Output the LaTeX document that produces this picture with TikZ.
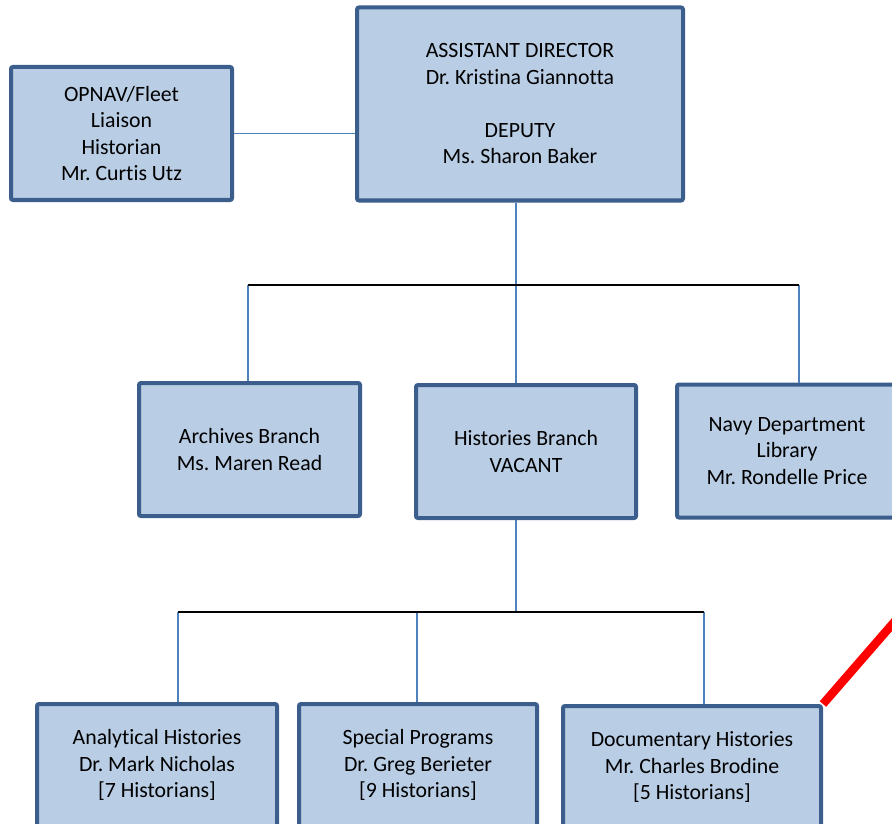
\documentclass[tikz,border=0pt]{standalone}
\usepackage{fontspec}
\setmainfont{Carlito}[Ligatures=NoCommon]
\frenchspacing
\definecolor{boxfill}{HTML}{B9CDE5}
\definecolor{boxline}{HTML}{3B5E8C}
\definecolor{linkblue}{HTML}{4F81BD}
\tikzset{
  unit/.style={draw=boxline, fill=boxfill, line width=4pt, rounded corners=2pt,
    align=center, inner sep=0pt, font=\fontsize{21.8}{26.5}\selectfont},
  link/.style={draw=linkblue, line width=1.8pt},
  bus/.style={draw=black, line width=2pt}
}
\begin{document}
\begin{tikzpicture}[x=1pt,y=-1pt]
  \useasboundingbox (0,0) rectangle (892,824);
  \clip (0,0) rectangle (892,824);

  \begin{scope}[every node/.style={unit}]
    \node[minimum width=326pt, minimum height=193pt] (ad) at (520,104)
      {ASSISTANT DIRECTOR\\Dr. Kristina Giannotta\\[26.5pt]DEPUTY\\Ms. Sharon Baker};
    \node[minimum width=221pt, minimum height=133pt] (liaison) at (121.5,133.5)
      {OPNAV/Fleet\\Liaison\\Historian\\Mr. Curtis Utz};
    \node[minimum width=221pt, minimum height=133pt] (arch) at (249.5,449.5)
      {Archives Branch\\Ms. Maren Read};
    \node[minimum width=220pt, minimum height=133pt] (hist) at (526,451.5)
      {Histories Branch\\VACANT};
    \node[minimum width=220pt, minimum height=133pt] (lib) at (787,451)
      {Navy Department\\Library\\Mr. Rondelle Price};
    \node[minimum width=240pt, minimum height=122pt] (anal) at (157,765)
      {Analytical Histories\\Dr. Mark Nicholas\\{[7 Historians]}};
    \node[minimum width=238pt, minimum height=122pt] (spec) at (418,765)
      {Special Programs\\Dr. Greg Berieter\\{[9 Historians]}};
    \node[minimum width=258pt, minimum height=122pt] (doc) at (692,767)
      {Documentary Histories\\Mr. Charles Brodine\\{[5 Historians]}};
  \end{scope}

  % junctions
  \coordinate (top) at (516,285);
  \coordinate (topL) at (248,285);
  \coordinate (topR) at (799,285);
  \coordinate (mid) at (516,612);
  \coordinate (midL) at (178,612);
  \coordinate (midC) at (417,612);
  \coordinate (midR) at (704,612);
  \coordinate (off) at (962,544);

  \begin{scope}[every edge/.style={link}]
    \path (liaison.east) edge (liaison.east -| ad.west);
    \path (top |- ad.south) edge (top);
    \path (topL) edge (topL |- arch.north);
    \path (top) edge (top |- hist.north);
    \path (topR) edge (topR |- lib.north);
    \path (mid |- hist.south) edge (mid);
    \path (midL) edge (midL |- anal.north);
    \path (midC) edge (midC |- spec.north);
    \path (midR) edge (midR |- doc.north);
  \end{scope}

  \draw[bus] (topL) -- (topR);
  \draw[bus] (midL) -- (midR);

  \draw[red, line width=8.5pt] (doc.north east) -- (off);
\end{tikzpicture}
\end{document}
